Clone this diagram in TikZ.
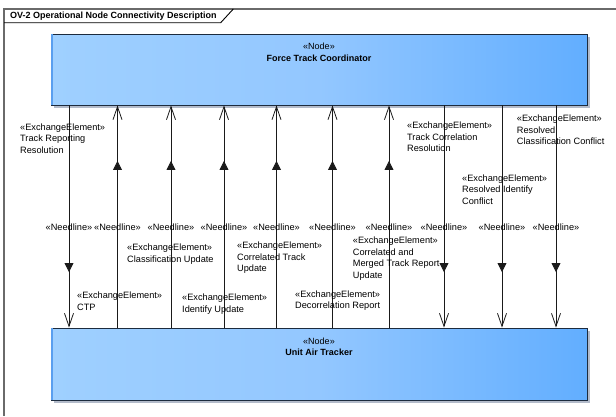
\documentclass[tikz,border=0pt]{standalone}
\usepackage{fontspec}
\setmainfont{Liberation Sans}
\usetikzlibrary{arrows.meta,decorations.markings,shadows}

\definecolor{boxL}{HTML}{9FD0FF}
\definecolor{boxM}{HTML}{93C7FF}
\definecolor{boxR}{HTML}{62AEFF}
\definecolor{boxEdge}{HTML}{1C2B3E}
\definecolor{boxStrip}{HTML}{5A9FEF}
\definecolor{boxShade}{HTML}{B3BBCA}
\definecolor{frameGray}{HTML}{6A6A6A}
\definecolor{flowInk}{HTML}{1A1A1A}

\tikzset{
  txt/.style={font={\fontsize{9.2}{11.5}\selectfont}, inner sep=0pt, text=black},
  opnode/.style={rectangle, draw=boxEdge, line width=0.9pt,
    left color=boxL, right color=boxR, middle color=boxM,
    minimum width=536pt, inner sep=0pt,
    drop shadow={shadow xshift=3pt, shadow yshift=-3pt, fill=boxShade, opacity=1}},
  nodetext/.style={txt, align=center, anchor=north},
  eelabel/.style={txt, align=left, anchor=north west},
  needlabel/.style={txt, anchor=center},
  flowline/.style={draw=flowInk, line width=0.8pt,
    -{Straight Barb[length=13pt, width=9pt, line width=0.8pt]},
    decoration={markings, mark=at position 0.75 with {\arrow{Triangle[length=9pt, width=9pt]}}},
    postaction={decorate}},
}

\begin{document}
\begin{tikzpicture}[x=1pt, y=-1pt]
  \useasboundingbox (0,0) rectangle (616,416);
  \fill[white] (0,0) rectangle (616,416);

  % diagram frame and its name tab
  \draw[frameGray, line width=1.2pt] (4,416) -- (4,9) -- (616,9);
  \draw[black, line width=0.9pt] (4,22.7) -- (220.7,22.7) -- (233.3,9);
  \node[txt, anchor=base west, font={\fontsize{9}{11.5}\selectfont\bfseries}] (title) at (10,18.9)
    {OV-2 Operational Node Connectivity Description};

  % operational nodes
  \node[opnode, minimum height=71pt] (ftc) at (319,69.5) {};
  \node[opnode, minimum height=72pt] (uat) at (319,364) {};
  \draw[boxStrip, line width=1.6pt] ([xshift=1.3pt,yshift=-0.6pt]ftc.north west) -- ([xshift=1.3pt,yshift=0.6pt]ftc.south west);
  \draw[boxStrip, line width=1.6pt] ([xshift=1.3pt,yshift=-0.6pt]uat.north west) -- ([xshift=1.3pt,yshift=0.6pt]uat.south west);
  \node[nodetext, font={\fontsize{9}{11.5}\selectfont}] (ftc-name) at ([yshift=-9.5pt]ftc.north) {«Node»\\\textbf{Force Track Coordinator}};
  \node[nodetext, font={\fontsize{9}{11.5}\selectfont}] (uat-name) at ([yshift=-10pt]uat.north) {«Node»\\\textbf{Unit Air Tracker}};

  % needline positions
  \coordinate (n1) at (69,0);
  \coordinate (n2) at (117.5,0);
  \coordinate (n3) at (171,0);
  \coordinate (n4) at (224,0);
  \coordinate (n5) at (276.5,0);
  \coordinate (n6) at (332.5,0);
  \coordinate (n7) at (389,0);
  \coordinate (n8) at (444,0);
  \coordinate (n9) at (502,0);
  \coordinate (n10) at (556,0);

  % needlines: coordinator to tracker
  \draw[flowline] (ftc.south -| n1) -- node[needlabel, pos=0.546] (nl1) {«Needline»} (uat.north -| n1);
  \draw[flowline] (ftc.south -| n8) -- node[needlabel, pos=0.546] (nl8) {«Needline»} (uat.north -| n8);
  \draw[flowline] (ftc.south -| n9) -- node[needlabel, pos=0.546] (nl9) {«Needline»} (uat.north -| n9);
  \draw[flowline] (ftc.south -| n10) -- node[needlabel, pos=0.546] (nl10) {«Needline»} (uat.north -| n10);
  % needlines: tracker to coordinator
  \draw[flowline] (uat.north -| n2) -- node[needlabel, pos=0.454] (nl2) {«Needline»} (ftc.south -| n2);
  \draw[flowline] (uat.north -| n3) -- node[needlabel, pos=0.454] (nl3) {«Needline»} (ftc.south -| n3);
  \draw[flowline] (uat.north -| n4) -- node[needlabel, pos=0.454] (nl4) {«Needline»} (ftc.south -| n4);
  \draw[flowline] (uat.north -| n5) -- node[needlabel, pos=0.454] (nl5) {«Needline»} (ftc.south -| n5);
  \draw[flowline] (uat.north -| n6) -- node[needlabel, pos=0.454] (nl6) {«Needline»} (ftc.south -| n6);
  \draw[flowline] (uat.north -| n7) -- node[needlabel, pos=0.454] (nl7) {«Needline»} (ftc.south -| n7);

  % exchange elements
  \node[eelabel] (ee1) at (20,123.4) {«ExchangeElement»\\Track Reporting\\Resolution};
  \node[eelabel] (ee2) at (127,244) {«ExchangeElement»\\Classification Update};
  \node[eelabel] (ee3) at (237,241.7) {«ExchangeElement»\\Correlated Track\\Update};
  \node[eelabel] (ee4) at (77,291.7) {«ExchangeElement»\\CTP};
  \node[eelabel] (ee5) at (182,294) {«ExchangeElement»\\Identify Update};
  \node[eelabel] (ee6) at (295,290.2) {«ExchangeElement»\\Decorrelation Report};
  \node[eelabel] (ee7) at (352.7,236.7) {«ExchangeElement»\\Correlated and\\Merged Track Report\\Update};
  \node[eelabel] (ee8) at (407,121.7) {«ExchangeElement»\\Track Correlation\\Resolution};
  \node[eelabel] (ee9) at (462,174.4) {«ExchangeElement»\\Resolved Identify\\Conflict};
  \node[eelabel] (ee10) at (516.7,115) {«ExchangeElement»\\Resolved\\Classification Conflict};
\end{tikzpicture}
\end{document}
